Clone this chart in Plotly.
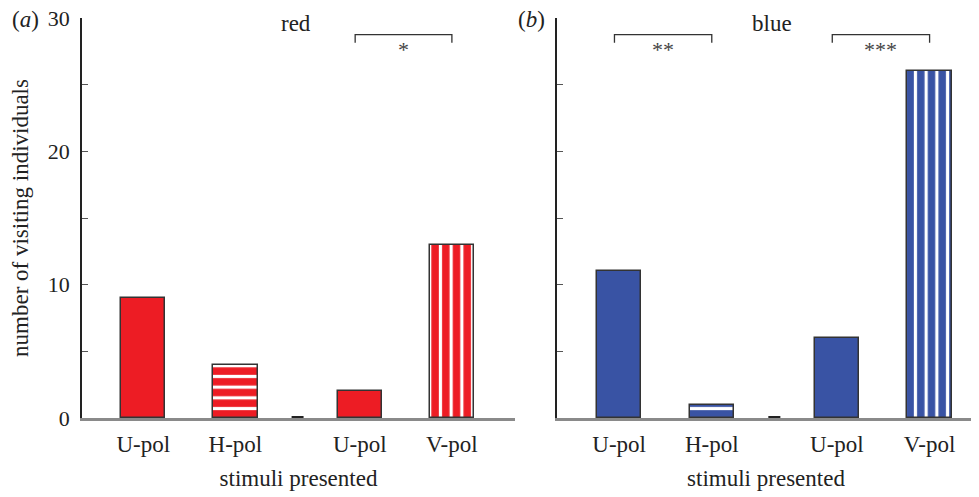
import plotly.graph_objects as go

# ---- data ----
categories = ["U-pol", "H-pol", "U-pol", "V-pol"]
positions = [0, 1, 2.35, 3.35]
red_values = [9, 4, 2, 13]
blue_values = [11, 1, 6, 26]
patterns = ["", "-", "", "|"]
y_ticks = [0, 10, 20, 30]
red_brackets = [(2, 3, "*")]
blue_brackets = [(0, 1, "**"), (2, 3, "***")]

RED = "#ED1C24"
BLUE = "#3953A4"
FONT = "Liberation Serif"
FS = 23
TXT = "#222222"
bracket_y = 28.75

# page has an 8px body margin: size the figure to fit the 979x497 window
OFF = 8
W, H = 979 - OFF, 497 - OFF


def px(x):
    return (x - OFF) / W


def py(y):
    return 1 - (y - OFF) / H


fig = go.Figure()


def add_panel(values, color, xa, ya, brackets, title, letter, title_x):
    for i in range(len(values)):
        shape = patterns[i]
        marker = dict(color=color, line=dict(color="#333333", width=1.5))
        if shape:
            marker["pattern"] = dict(shape=shape, fgcolor="white", bgcolor=color,
                                     size=10.7, solidity=0.3, fillmode="replace")
        fig.add_trace(go.Bar(x=[positions[i]], y=[values[i]], width=0.48,
                             marker=marker, xaxis=xa, yaxis=ya, showlegend=False))
    # gap separator on baseline
    mid = (positions[1] + positions[2]) / 2
    fig.add_trace(go.Scatter(x=[mid - 0.065, mid + 0.065], y=[0, 0], mode="lines",
                             line=dict(color="#222222", width=4), xaxis=xa, yaxis=ya,
                             showlegend=False, hoverinfo="skip", cliponaxis=False))
    for a, b, stars in brackets:
        xa0, xb0 = positions[a] - 0.05, positions[b]
        fig.add_trace(go.Scatter(x=[xa0, xa0, xb0, xb0],
                                 y=[bracket_y - 0.6, bracket_y, bracket_y, bracket_y - 0.6],
                                 mode="lines", line=dict(color="#333333", width=1.3),
                                 xaxis=xa, yaxis=ya, showlegend=False, hoverinfo="skip"))
        fig.add_annotation(x=(xa0 + xb0) / 2, y=bracket_y - 1.1, text=stars,
                           xref=xa, yref=ya, showarrow=False,
                           font=dict(family=FONT, size=22, color="#444444"))
    fig.add_annotation(x=px(title_x), y=py(23), xref="paper", yref="paper",
                       xanchor="center", yanchor="middle",
                       text=title, showarrow=False,
                       font=dict(family=FONT, size=FS, color=TXT))
    fig.add_annotation(x=px(letter[1]), y=py(20), xref="paper", yref="paper",
                       xanchor="center", yanchor="middle",
                       text=letter[0], showarrow=False,
                       font=dict(family=FONT, size=FS, color=TXT))


add_panel(red_values, RED, "x", "y", red_brackets, "red", ("(<i>a</i>)", 25), 296)
add_panel(blue_values, BLUE, "x2", "y2", blue_brackets, "blue", ("(<i>b</i>)", 531), 772)

ydom = [py(418), py(18)]
common_x = dict(showline=True, linecolor="#8a8a8a", linewidth=2.5, ticks="",
                tickvals=positions, ticktext=categories, showgrid=False, zeroline=False,
                automargin=False, layer="below traces", ticklabelstandoff=4,
                tickfont=dict(family=FONT, size=FS, color=TXT),
                title=dict(text="stimuli presented", font=dict(family=FONT, size=FS, color=TXT),
                           standoff=14))
common_y = dict(range=[0, 30], showline=True, linecolor="#222222", linewidth=1.5,
                ticks="inside", ticklen=6, tickwidth=1.3, tickcolor="#555555",
                tickvals=y_ticks, showgrid=False, zeroline=False, automargin=False,
                ticklabeloverflow="allow",
                minor=dict(ticks="inside", ticklen=6, tickwidth=1.3, tickcolor="#555555", dtick=5),
                tickfont=dict(family=FONT, size=22, color=TXT))

fig.update_layout(
    width=W, height=H, margin=dict(l=0, r=0, t=0, b=0),
    plot_bgcolor="white", paper_bgcolor="white", bargap=0,
    xaxis=dict(domain=[px(82), px(515)], range=[-0.665, 4.035], anchor="y", **common_x),
    xaxis2=dict(domain=[px(557), px(975)], range=[-0.67, 3.84], anchor="y2", **common_x),
    yaxis=dict(domain=ydom, anchor="x", showticklabels=True, ticklabelstandoff=6,
               title=dict(text="number of visiting individuals",
                          font=dict(family=FONT, size=FS, color=TXT), standoff=14),
               **common_y),
    yaxis2=dict(domain=ydom, anchor="x2", showticklabels=False, **common_y),
)

fig.write_html("out.html")
